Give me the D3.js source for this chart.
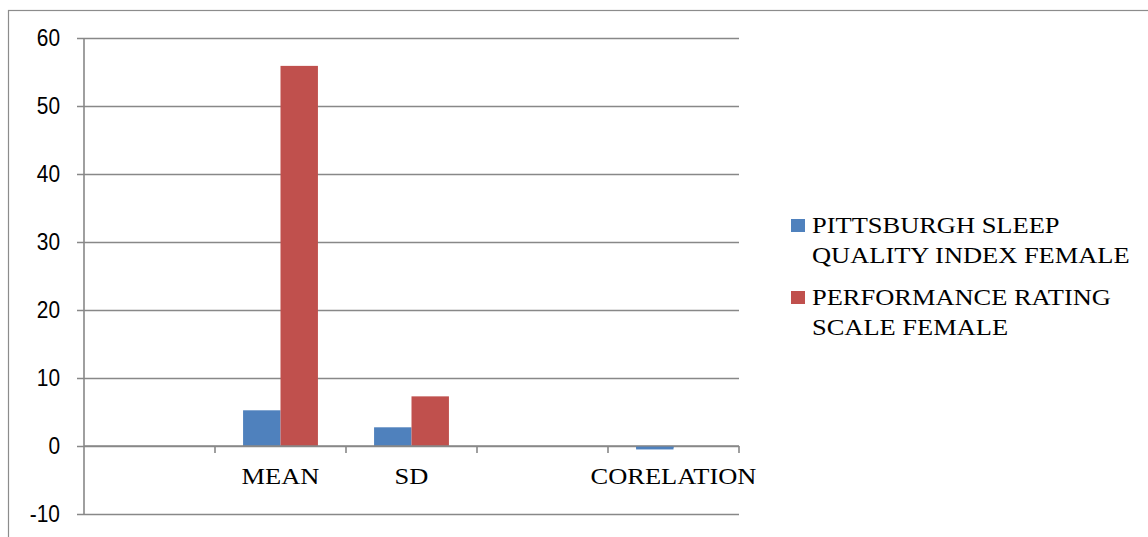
<!DOCTYPE html>
<html>
<head>
<meta charset="utf-8">
<script src="https://cdn.jsdelivr.net/npm/d3@7"></script>
<style>
  html, body { margin: 0; padding: 0; background: #fff; }
  svg { display: block; }
</style>
</head>
<body>
<svg id="chart" width="1148" height="537"></svg>
<script>
// ---- data ----
const categories = ["", "MEAN", "SD", "", "CORELATION"];
const seriesNames = ["PITTSBURGH SLEEP QUALITY INDEX FEMALE", "PERFORMANCE RATING SCALE FEMALE"];
const legendLines = [["PITTSBURGH SLEEP", "QUALITY INDEX FEMALE"], ["PERFORMANCE RATING", "SCALE FEMALE"]];
const psqiValues = [null, 5.25, 2.75, null, -0.3];
const prsValues = [null, 55.9, 7.3, null, 0];
const yTicks = [-10, 0, 10, 20, 30, 40, 50, 60];
const colors = ["#4F81BD", "#C0504D"];

const svg = d3.select("#chart");
const gridColor = "#888888";

// outer frame
svg.append("rect").attr("x", 8.5).attr("y", 10.5).attr("width", 1200).attr("height", 600)
  .attr("fill", "none").attr("stroke", "#8c8c8c").attr("stroke-width", 1.2);

const plot = { left: 84, right: 739, top: 38, bottom: 514 };

const y = d3.scaleLinear().domain([-10, 60]).range([plot.bottom, plot.top]);
const x = d3.scaleBand().domain(d3.range(categories.length)).range([plot.left, plot.right]).padding(0);
const xs = d3.scaleBand().domain([0, 1]).range([0, x.bandwidth()]).paddingInner(0).paddingOuter(0.75);

// gridlines + y axis ticks
const yAxis = d3.axisLeft(y).tickValues(yTicks).tickSize(-(plot.right - plot.left)).tickPadding(0).tickFormat("");
const gy = svg.append("g").attr("transform", `translate(${plot.left},0)`).call(yAxis);
gy.select(".domain").remove();
gy.selectAll(".tick line").attr("x1", -7).attr("stroke", gridColor).attr("stroke-width", 1.6);

// y tick labels
svg.append("g").selectAll("text").data(yTicks).join("text")
  .attr("transform", d => `translate(60,${y(d) + 8}) scale(0.95,1.08)`)
  .attr("text-anchor", "end")
  .attr("font-family", "'Liberation Sans', Arial, sans-serif")
  .attr("font-size", 22).attr("fill", "#000")
  .text(d => d);

// vertical axis line
svg.append("line").attr("x1", plot.left).attr("x2", plot.left)
  .attr("y1", y(60)).attr("y2", y(-10)).attr("stroke", gridColor).attr("stroke-width", 1.6);

// bars
const seriesData = [psqiValues, prsValues];
seriesData.forEach((vals, si) => {
  svg.append("g").selectAll("rect").data(vals.map((v, i) => ({ v, i })).filter(d => d.v !== null))
    .join("rect")
    .attr("x", d => x(d.i) + xs(si))
    .attr("width", xs.bandwidth())
    .attr("y", d => Math.min(y(d.v), y(0)))
    .attr("height", d => Math.abs(y(d.v) - y(0)))
    .attr("fill", colors[si]);
});

// x axis at zero with tick marks
svg.append("line").attr("x1", plot.left).attr("x2", plot.right)
  .attr("y1", y(0)).attr("y2", y(0)).attr("stroke", gridColor).attr("stroke-width", 1.6);
svg.append("g").selectAll("line").data(d3.range(1, categories.length + 1)).join("line")
  .attr("x1", i => plot.left + i * x.bandwidth()).attr("x2", i => plot.left + i * x.bandwidth())
  .attr("y1", y(0)).attr("y2", y(0) + 7).attr("stroke", gridColor).attr("stroke-width", 1.6);

// negative bars drawn above axis line so they remain visible
svg.append("g").selectAll("rect").data(psqiValues.map((v, i) => ({ v, i })).filter(d => d.v !== null && d.v < 0))
  .join("rect")
  .attr("x", d => x(d.i) + xs(0))
  .attr("width", xs.bandwidth())
  .attr("y", y(0) + 0.8)
  .attr("height", d => Math.abs(y(d.v) - y(0)) + 0.6)
  .attr("fill", colors[0]);

// category labels
svg.append("g").selectAll("text").data(categories.map((c, i) => ({ c, i })).filter(d => d.c))
  .join("text")
  .attr("transform", d => `translate(${x(d.i) + x.bandwidth() / 2},484) scale(1.15,1.03)`)
  .attr("text-anchor", "middle")
  .attr("font-family", "'Liberation Serif', 'Times New Roman', serif")
  .attr("font-size", 23).attr("fill", "#000")
  .text(d => d.c);

// legend
const legend = svg.append("g");
legendLines.forEach((lines, si) => {
  const baseY = 233 + si * 72;
  legend.append("rect").attr("x", 791).attr("y", baseY - 14).attr("width", 14).attr("height", 13)
    .attr("fill", colors[si]);
  lines.forEach((ln, li) => {
    legend.append("text")
      .attr("transform", `translate(812,${baseY + li * 30}) scale(1.15,1.03)`)
      .attr("font-family", "'Liberation Serif', 'Times New Roman', serif")
      .attr("font-size", 23).attr("fill", "#000")
      .text(ln);
  });
});
</script>
</body>
</html>
